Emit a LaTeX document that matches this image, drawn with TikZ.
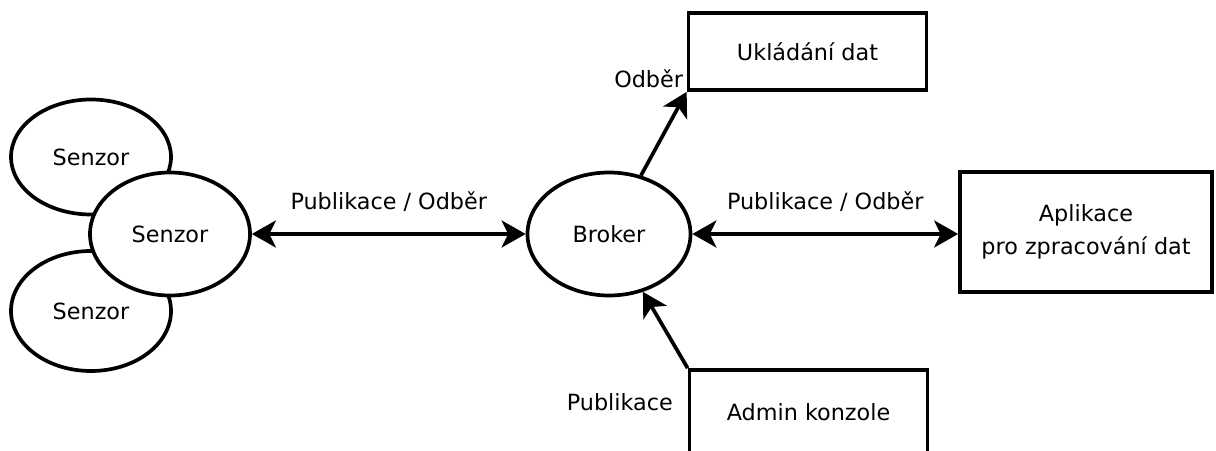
\documentclass[tikz,border=0pt]{standalone}
\usepackage{fontspec}
\setmainfont{DejaVu Sans}
\usetikzlibrary{shapes.geometric, arrows.meta, positioning}

\begin{document}
\begin{tikzpicture}[
    font=\fontsize{12.7}{18.7}\selectfont,
    line width=2.1pt,
    client/.style = {
        ellipse, draw=black, fill=white, inner sep=0pt,
        minimum width=3.2cm, minimum height=2.3cm
    },
    brokernode/.style = {
        ellipse, draw=black, fill=white, inner sep=0pt,
        minimum width=3.26cm, minimum height=2.46cm
    },
    svc/.style = {
        rectangle, draw=black, fill=white, align=center,
        minimum width=4.76cm, minimum height=1.54cm
    },
    tip/.tip = {Stealth[length=0.48cm, width=0.54cm, inset=0.13cm]},
    arr/.style = {-tip},
    darr/.style = {tip-tip}
]
\useasboundingbox (0,0) rectangle (24.32,9);

% ---- Sensors ----
\node[client] (sensA) at (1.82,5.86) {Senzor};
\node[client, minimum height=2.4cm] (sensB) at (1.82,2.78) {Senzor};
\node[client, minimum height=2.46cm] (sensC) at (3.40,4.32) {Senzor};

% ---- Broker ----
\node[brokernode] (broker) at (12.18,4.32) {Broker};

% ---- Services ----
\node[svc] (store) at (16.15,7.97) {Ukládání dat};
\node[svc, minimum width=5.04cm, minimum height=2.4cm] (app) at (21.72,4.36)
    {Aplikace\\pro zpracování dat};
\node[svc, minimum height=1.7cm] (admin) at (16.17,0.75) {Admin konzole};

% ---- Arrows ----
\draw[darr] (sensC) -- (broker)
    node[midway, above=0.3cm] {Publikace / Odběr};
\draw[darr] (broker) -- (app.west |- broker)
    node[midway, above=0.3cm] {Publikace / Odběr};
\draw[arr] (broker) -- (store.south west)
    node[pos=1, above left, inner sep=1pt] {Odběr};
\draw[arr] (admin.north west) -- (broker);
\node[anchor=east, inner sep=0pt] at ([xshift=-0.26cm, yshift=0.2cm]admin.west) {Publikace};

\end{tikzpicture}
\end{document}
